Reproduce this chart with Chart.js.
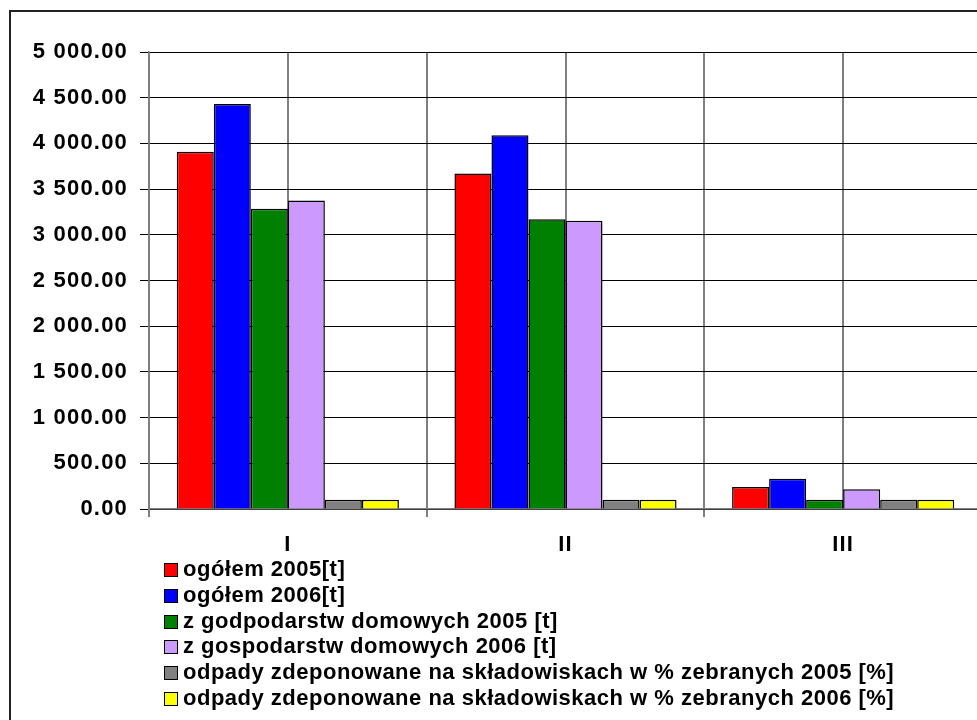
<!DOCTYPE html>
<html>
<head>
<meta charset="utf-8">
<script src="https://cdn.jsdelivr.net/npm/chart.js@4"></script>
<style>
    html, body { margin: 0; padding: 0; background: #fff; overflow: hidden; }
    #page { position: relative; width: 977px; height: 720px; overflow: hidden; }
    #frame { position: absolute; left: 9px; top: 10px; width: 1100px; height: 800px;
             border-left: 2px solid #222; border-top: 2px solid #222; }
    #wrap { position: absolute; left: 0; top: 0; width: 1000px; height: 560px; }
    #legend { position: absolute; left: 164px; top: 556px; font: bold 22px "Liberation Sans", Arial, sans-serif;
              letter-spacing: 0.5px; color: #000; }
    #legend div { height: 25.8px; line-height: 25.8px; white-space: nowrap; }
    #legend span.box { display: inline-block; width: 12px; height: 12px; border: 1.5px solid #000;
                       margin-right: 5px; vertical-align: -1px; }
</style>
</head>
<body>
<div id="page">
    <div id="frame"></div>
    <div id="wrap"><canvas id="chart" width="1000" height="560"></canvas></div>
    <div id="legend"></div>
</div>
<script>
const categories = ['I', 'II', 'III'];

const ogolem2005 = [3910, 3670, 240];
const ogolem2006 = [4430, 4090, 330];
const domowe2005 = [3285, 3170, 100];
const domowe2006 = [3375, 3155, 215];
const zdeponowane2005 = [100, 100, 100];
const zdeponowane2006 = [100, 100, 100];

const seriesNames = [
    'ogółem 2005[t]',
    'ogółem 2006[t]',
    'z godpodarstw domowych 2005 [t]',
    'z gospodarstw domowych 2006 [t]',
    'odpady zdeponowane na składowiskach w % zebranych 2005 [%]',
    'odpady zdeponowane na składowiskach w % zebranych 2006 [%]'
];
const seriesColors = ['#FF0000', '#0000FF', '#008000', '#CC99FF', '#808080', '#FFFF00'];

const yTicks = { min: 0, max: 5000, step: 500 };

const font = '"Liberation Sans", Arial, sans-serif';

function formatValue(v) {
    return v.toFixed(2).replace(/\B(?=(\d{3})+(?!\d))/g, ' ');
}

// excel draws its labels a bit wider than the font does
const spacingPlugin = {
    id: 'spacing',
    beforeDraw: function (chart) {
        chart.ctx.letterSpacing = '1.2px';
    }
};

const seriesValues = [ogolem2005, ogolem2006, domowe2005, domowe2006, zdeponowane2005, zdeponowane2006];

const chart = new Chart(document.getElementById('chart'), {
    type: 'bar',
    data: {
        labels: categories,
        datasets: seriesValues.map(function (values, i) {
            return {
                label: seriesNames[i],
                data: values,
                backgroundColor: seriesColors[i],
                borderColor: '#000',
                borderWidth: 1.5,
                categoryPercentage: 0.8,
                barPercentage: 1.0
            };
        })
    },
    plugins: [spacingPlugin],
    options: {
        responsive: false,
        animation: false,
        events: [],
        layout: { padding: { left: 0, top: 52, right: 18, bottom: 0 } },
        plugins: {
            legend: { display: false },
            tooltip: { enabled: false }
        },
        scales: {
            x: {
                type: 'category',
                position: 'bottom',
                offset: true,
                grid: { offset: true, color: '#808080', lineWidth: 2, tickLength: 8 },
                border: { color: '#808080', width: 1.5 },
                ticks: { color: '#000', padding: 15, font: { family: font, size: 22, weight: 'bold' } },
                afterFit: function (scale) { scale.height = 51; }
            },
            x2: {
                type: 'category',
                position: 'top',
                offset: true,
                grid: { offset: false, color: '#808080', lineWidth: 2, drawTicks: false },
                border: { display: false },
                ticks: { display: false },
                afterFit: function (scale) { scale.height = 0; }
            },
            y: {
                min: yTicks.min,
                max: yTicks.max,
                grid: { color: '#000', lineWidth: 1, tickLength: 9 },
                border: { color: '#808080', width: 1.5 },
                ticks: {
                    stepSize: yTicks.step,
                    color: '#000',
                    padding: 12,
                    font: { family: font, size: 22, weight: 'bold' },
                    callback: function (v) { return formatValue(v); }
                },
                afterFit: function (scale) { scale.width = 149; }
            }
        }
    }
});

const legendEl = document.getElementById('legend');
chart.data.datasets.forEach(function (ds) {
    const row = document.createElement('div');
    const box = document.createElement('span');
    box.className = 'box';
    box.style.background = ds.backgroundColor;
    row.appendChild(box);
    row.appendChild(document.createTextNode(ds.label));
    legendEl.appendChild(row);
});
</script>
</body>
</html>
